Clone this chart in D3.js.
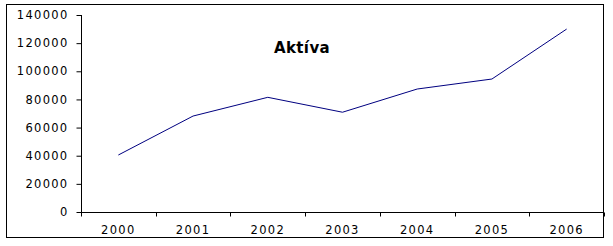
<!DOCTYPE html>
<html><head><meta charset="utf-8">
<script src="https://cdn.jsdelivr.net/npm/d3@7"></script>
<style>body{margin:0;background:#fff}svg{display:block}</style>
</head><body>
<script>
const years = ["2000","2001","2002","2003","2004","2005","2006"];
const aktiva = [40500, 68200, 81500, 70900, 87400, 94500, 130000];
const yTicks = [0,20000,40000,60000,80000,100000,120000,140000];
const title = "Aktíva";

const W = 613, H = 246;
const svg = d3.select("body").append("svg").attr("width", W).attr("height", H);
svg.append("rect").attr("x",6.5).attr("y",4.5).attr("width",597).attr("height",233)
  .attr("fill","#fff").attr("stroke","#000").attr("stroke-width",1);

const x0 = 81, x1 = 604, yTop = 15, yBot = 212;
const xb = d3.scaleBand().domain(years).range([x0, x1]);
const y = d3.scaleLinear().domain([0,140000]).range([yBot, yTop]);

const font = "DejaVu Sans, Verdana, sans-serif";
// Y axis
const ya = svg.append("g").attr("transform",`translate(${x0+0.5},0)`)
  .call(d3.axisLeft(y).tickValues(yTicks).tickSize(5).tickPadding(8).tickFormat(d3.format("d")));
ya.select(".domain").attr("d", `M0,${y(140000)}V${yBot}`);
ya.selectAll("text").attr("font-family",font).attr("font-size",11.5).attr("letter-spacing","1.3px").attr("fill","#000");

// X axis
const xa = svg.append("g").attr("transform",`translate(0,${yBot+0.5})`);
xa.append("line").attr("x1",x0).attr("x2",x1).attr("stroke","#000");
xa.selectAll("line.t").data(years.concat(["end"])).join("line").attr("class","t")
  .attr("x1",(d,i)=> i<years.length ? Math.round(xb(d))+0.5 : x1+0.5)
  .attr("x2",(d,i)=> i<years.length ? Math.round(xb(d))+0.5 : x1+0.5)
  .attr("y1",0).attr("y2",4).attr("stroke","#000");
xa.selectAll("text").data(years).join("text")
  .attr("x", d=> xb(d)+xb.bandwidth()/2).attr("y", 21.5)
  .attr("text-anchor","middle").attr("font-family",font).attr("font-size",11.5)
  .attr("letter-spacing","1.3px").text(d=>d);

// Line
const line = d3.line().x((d,i)=> xb(years[i])+xb.bandwidth()/2).y(d=>y(d));
svg.append("path").datum(aktiva).attr("d",line).attr("fill","none")
  .attr("stroke","#000080").attr("stroke-width",1);

// Title
svg.append("text").attr("x",302).attr("y",53).attr("text-anchor","middle")
  .attr("font-family","DejaVu Sans, Verdana, sans-serif").attr("font-weight","bold")
  .attr("font-size",15).attr("letter-spacing","0.4px").text(title);
</script>
</body></html>
